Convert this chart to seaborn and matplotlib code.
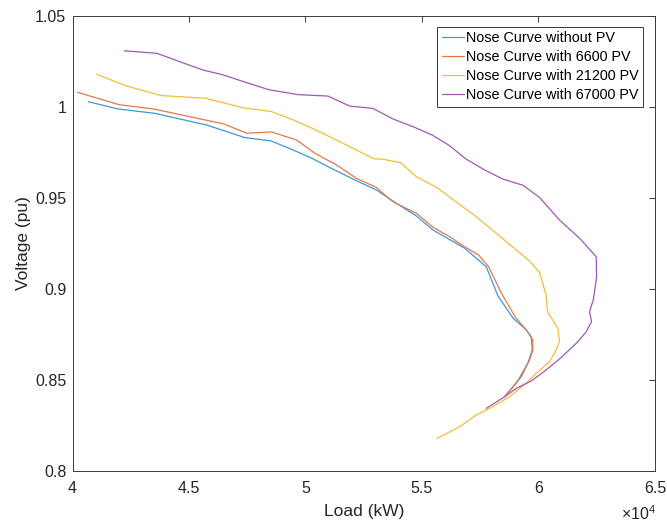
import matplotlib
matplotlib.use("Agg")
import matplotlib.pyplot as plt
import seaborn as sns
from matplotlib.ticker import FuncFormatter

# Load (kW) versus bus voltage (pu) for each PV penetration level
curve_names = [
    "Nose Curve without PV",
    "Nose Curve with 6600 PV",
    "Nose Curve with 21200 PV",
    "Nose Curve with 67000 PV",
]

load_no_pv = [40677, 41964, 43538, 45754, 47397, 48512, 49468, 50326, 51170,
              52187, 53045, 53743, 54760, 55471, 56830, 57760, 58258, 58901,
              59476, 59690, 59733, 59545, 59262, 58901, 58546]
volt_no_pv = [1.0029, 0.9989, 0.9965, 0.9901, 0.9832, 0.9814, 0.9764, 0.9715,
              0.9659, 0.9595, 0.9544, 0.9484, 0.9401, 0.9324, 0.9224, 0.9122,
              0.8962, 0.8841, 0.8775, 0.8738, 0.8665, 0.8592, 0.8518, 0.8463,
              0.8408]

load_pv6600 = [40206, 41994, 43495, 45682, 46496, 47470, 48542, 49614, 50398,
               51363, 52187, 53045, 53615, 53829, 54760, 55471, 56187, 56830,
               57431, 57860, 58404, 59004, 59476, 59759, 59759, 59618, 59047,
               58546]
volt_pv6600 = [1.0081, 1.0013, 0.9989, 0.9929, 0.9907, 0.9856, 0.9863, 0.9819,
               0.9746, 0.9679, 0.9608, 0.9558, 0.9493, 0.9474, 0.9416, 0.9339,
               0.9287, 0.9232, 0.9187, 0.9122, 0.8978, 0.8846, 0.8775, 0.8720,
               0.8665, 0.8610, 0.8482, 0.8408]

load_pv21200 = [41038, 42251, 43795, 45716, 47311, 48542, 49468, 50356, 51115,
                52041, 52928, 53327, 54078, 54760, 55651, 56402, 57332, 58190,
                59047, 59618, 60047, 60325, 60390, 60831, 60904, 60763, 60475,
                59905, 59489, 58833, 58044, 57332, 56616, 55651]
volt_pv21200 = [1.0180, 1.0118, 1.0063, 1.0048, 0.9996, 0.9975, 0.9929, 0.9879,
                0.9832, 0.9773, 0.9716, 0.9713, 0.9694, 0.9617, 0.9556, 0.9485,
                0.9397, 0.9306, 0.9214, 0.9154, 0.9091, 0.8967, 0.8874, 0.8784,
                0.8714, 0.8665, 0.8601, 0.8537, 0.8483, 0.8415, 0.8353, 0.8308,
                0.8243, 0.8179]

load_pv67000 = [42221, 43623, 45167, 45609, 46453, 47397, 48426, 49683, 50969,
                51899, 52899, 53756, 54613, 55437, 56144, 56903, 57688, 58473,
                59331, 60047, 60904, 61762, 62478, 62491, 62362, 62191, 62276,
                62049, 61655, 60978, 60218, 59690, 59047, 58546, 57760]
volt_pv67000 = [1.0309, 1.0295, 1.0223, 1.0203, 1.0177, 1.0137, 1.0095, 1.0068,
                1.0060, 1.0005, 0.9992, 0.9934, 0.9892, 0.9846, 0.9791, 0.9713,
                0.9654, 0.9604, 0.9570, 0.9503, 0.9379, 0.9279, 0.9177, 0.9066,
                0.8945, 0.8875, 0.8821, 0.8765, 0.8706, 0.8624, 0.8544, 0.8495,
                0.8454, 0.8408, 0.8344]

x_ticks = [40000, 45000, 50000, 55000, 60000, 65000]
y_ticks = [0.8, 0.85, 0.9, 0.95, 1.0, 1.05]

colors = ["#3E98D6", "#E4784C", "#F2BE3A", "#9E5AB0"]
edge = "#3a3a3a"

sns.set_style("white")
plt.rcParams["font.family"] = ["Liberation Sans", "DejaVu Sans"]
plt.rcParams["mathtext.fontset"] = "custom"
plt.rcParams["mathtext.rm"] = "Liberation Sans"
plt.rcParams["mathtext.it"] = "Liberation Sans"
plt.rcParams["mathtext.default"] = "regular"

fig, ax = plt.subplots(figsize=(6.67, 5.25), dpi=100)
fig.subplots_adjust(left=0.1087, right=0.982, bottom=0.1029, top=0.9695)

series = [
    (load_no_pv, volt_no_pv),
    (load_pv6600, volt_pv6600),
    (load_pv21200, volt_pv21200),
    (load_pv67000, volt_pv67000),
]
for (xs, ys), name, c in zip(series, curve_names, colors):
    sns.lineplot(x=xs, y=ys, ax=ax, sort=False, estimator=None,
                 color=c, linewidth=0.9, label=name)

ax.set_xlim(40000, 65000)
ax.set_ylim(0.8, 1.05)
ax.set_xticks(x_ticks)
ax.set_yticks(y_ticks)
ax.xaxis.set_major_formatter(FuncFormatter(lambda v, p: f"{v / 1e4:g}"))
ax.yaxis.set_major_formatter(FuncFormatter(lambda v, p: f"{v:g}"))

for side in ax.spines.values():
    side.set_visible(True)
    side.set_color(edge)
    side.set_linewidth(0.7)

ax.tick_params(axis="both", which="major", direction="in", length=4,
               width=0.7, color=edge, labelcolor="#262626", labelsize=11.5,
               top=True, right=True)
ax.tick_params(axis="x", pad=7)
ax.tick_params(axis="y", pad=4.5)

ax.set_xlabel("Load (kW)", fontsize=12.5, color="#262626", labelpad=6)
ax.set_ylabel("Voltage (pu)", fontsize=12.5, color="#262626", labelpad=3)

ax.annotate(r"$\times 10^{4}$", xy=(1.0, 0.0), xycoords="axes fraction",
            xytext=(1, -35), textcoords="offset points",
            ha="right", va="baseline", fontsize=11.5, color="#262626")

leg = ax.legend(loc="upper right", bbox_to_anchor=(0.98, 0.9765),
                borderaxespad=0, fontsize=10.4, frameon=True, fancybox=False,
                framealpha=1, edgecolor=edge, handlelength=1.55,
                handletextpad=0.15, labelspacing=0.35, borderpad=0.3)
leg.get_frame().set_linewidth(0.7)
for t in leg.get_texts():
    t.set_color("#000000")

fig.savefig("out.png", dpi=100, facecolor="white")
